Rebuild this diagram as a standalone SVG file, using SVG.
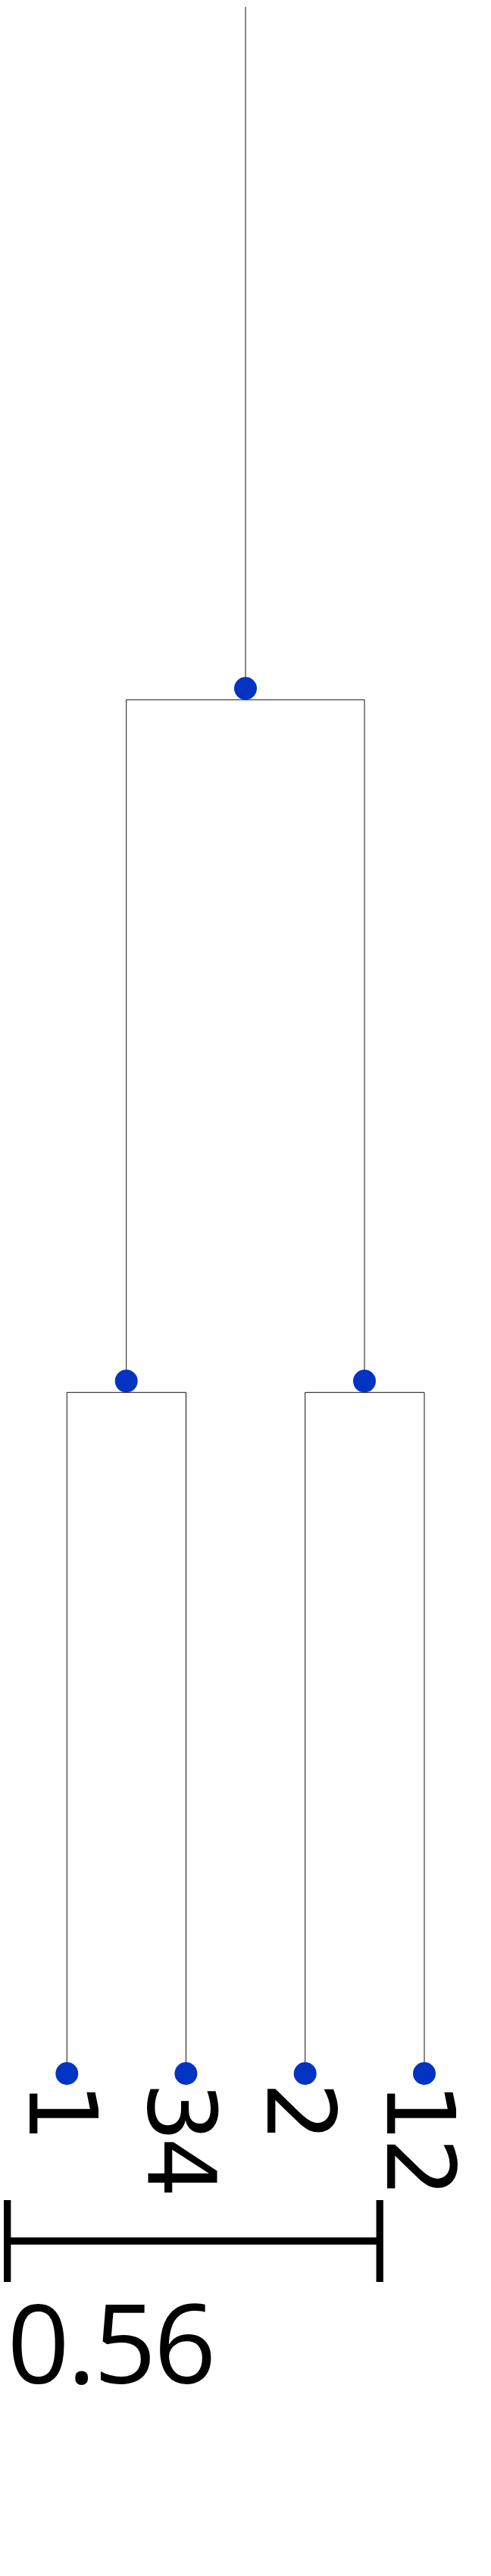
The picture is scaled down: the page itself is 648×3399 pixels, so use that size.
<svg xmlns="http://www.w3.org/2000/svg" width="648" height="3399" viewBox="0 0 648 3399">
<style>
.edge{stroke:#111;stroke-width:1;fill:none}
.node{fill:#0233c2}
.lbl{font-family:"DejaVu Sans",sans-serif;font-size:125px;fill:#000;letter-spacing:-6px}
.scale{stroke:#000;stroke-width:9.3;fill:none}
.scl{font-family:"Open Sans","Noto Sans",sans-serif;font-size:144px;fill:#000;letter-spacing:-3px}
</style>
<rect width="648" height="3399" fill="#fff"/>
<g id="connectors">
<line class="edge" x1="324" y1="9" x2="324" y2="908"/>
<polyline class="edge" points="166.7,1822 166.7,923.3 481,923.3 481,1822"/>
<polyline class="edge" points="88.3,2736 88.3,1837.3 245.5,1837.3 245.5,2736"/>
<polyline class="edge" points="402.7,2736 402.7,1837.3 560,1837.3 560,2736"/>
</g>
<g id="n_root"><circle class="node" cx="324" cy="908.3" r="15"/></g>
<g id="n_left"><circle class="node" cx="166.7" cy="1822.3" r="15"/></g>
<g id="n_right"><circle class="node" cx="481" cy="1822.3" r="15"/></g>
<g id="leaf_1"><circle class="node" cx="88.3" cy="2736" r="15"/><text class="lbl" transform="translate(39,2747) rotate(90)">1</text></g>
<g id="leaf_34"><circle class="node" cx="245.4" cy="2736" r="15"/><text class="lbl" transform="translate(196,2747) rotate(90)">34</text></g>
<g id="leaf_2"><circle class="node" cx="402.7" cy="2736" r="15"/><text class="lbl" transform="translate(353.4,2747) rotate(90)">2</text></g>
<g id="leaf_12"><circle class="node" cx="560" cy="2736" r="15"/><text class="lbl" transform="translate(510.7,2747) rotate(90)">12</text></g>
<g id="scalebar">
<line class="scale" x1="9.7" y1="2957" x2="501.2" y2="2957"/>
<line class="scale" x1="9.7" y1="2903" x2="9.7" y2="3011"/>
<line class="scale" x1="501.2" y1="2903" x2="501.2" y2="3011"/>
<text class="scl" x="9.5" y="3145">0.56</text>
</g>
</svg>
